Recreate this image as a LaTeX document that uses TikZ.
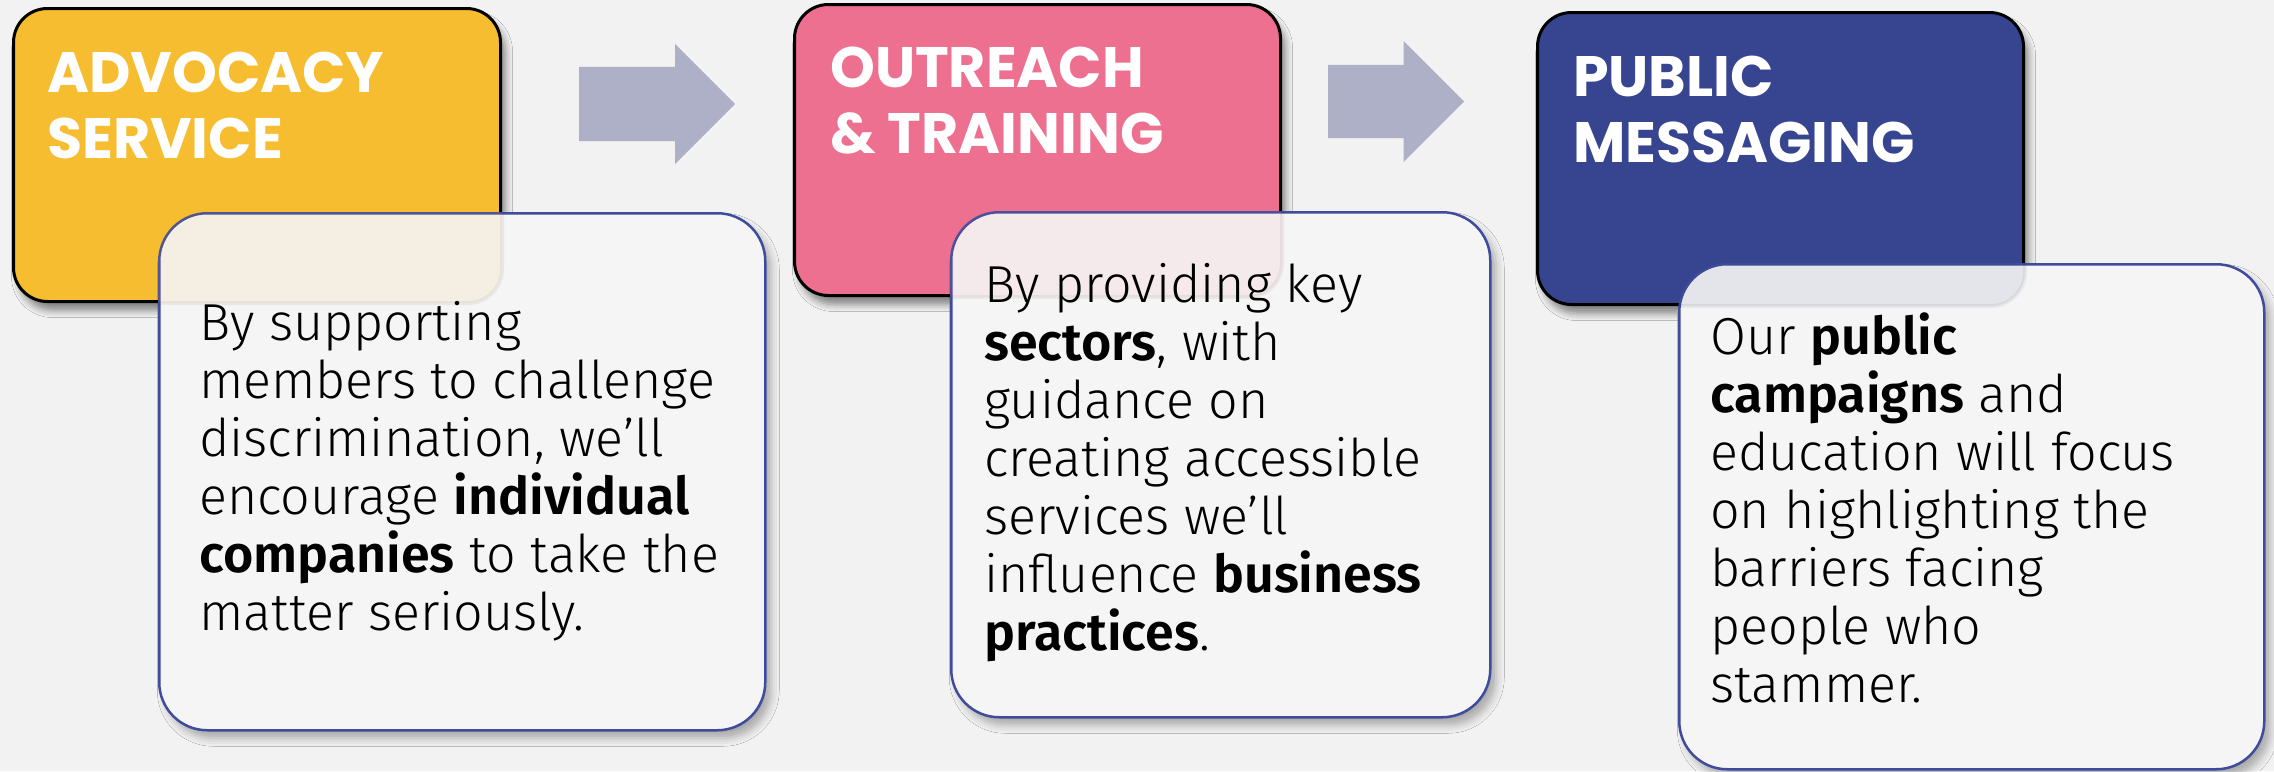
\documentclass[tikz,border=0pt]{standalone}
\usepackage{fontspec}
\setmainfont{Fira Sans}[UprightFont=* Light, BoldFont=* SemiBold]
\newfontfamily\headfont{Poppins}[UprightFont=* Bold]
\usetikzlibrary{shapes.arrows,shadows.blur}

\definecolor{pagebg}{HTML}{F2F2F2}
\definecolor{advyellow}{HTML}{F7BD30}
\definecolor{outpink}{HTML}{EE7090}
\definecolor{pubblue}{HTML}{37448F}
\definecolor{flowgray}{HTML}{ADB0C6}
\definecolor{cardline}{HTML}{3F4C9B}
\definecolor{cardfill}{HTML}{F5F5F5}

\tikzset{
  stage/.style={draw=black, line width=3pt, rounded corners=34pt,
    anchor=north west, inner sep=0pt,
    blur shadow={shadow xshift=5pt, shadow yshift=-9pt,
      shadow blur radius=7pt, shadow opacity=45}},
  card/.style={draw=cardline, line width=2.5pt, fill=cardfill,
    rounded corners=48pt, anchor=north west, inner sep=0pt,
    blur shadow={shadow xshift=6pt, shadow yshift=-8pt,
      shadow blur radius=8pt, shadow opacity=30}},
  tint/.style={fill opacity=0.09, draw=black, draw opacity=0.05,
    line width=4pt, rounded corners=34pt},
  heading/.style={anchor=base west, inner sep=0pt, text=white,
    font=\headfont\fontsize{57}{66}\selectfont},
  body/.style={anchor=base west, inner sep=0pt, text=black,
    font=\fontsize{52}{58}\selectfont},
  flow/.style={single arrow, fill=flowgray, draw=none, anchor=tail,
    inner xsep=0pt, inner ysep=37pt, single arrow head extend=23pt}
}

\begin{document}
\begin{tikzpicture}[x=1pt,y=-1pt]
  % page
  \fill[pagebg] (0,0) rectangle (2274,771);
  \useasboundingbox (0,0) rectangle (2274,771);

  % coloured stage boxes
  \node[stage, fill=advyellow, minimum width=487pt, minimum height=293pt] (advbox) at (12,7) {};
  \node[stage, fill=outpink, minimum width=486pt, minimum height=291pt] (outbox) at (793,3) {};
  \node[stage, fill=pubblue, minimum width=486pt, minimum height=292pt] (pubbox) at (1536,11) {};

  \node[heading] (advhead) at (47,92) {\parbox[t]{440pt}{ADVOCACY\\SERVICE}};
  \node[heading] (outhead) at (830,87) {\parbox[t]{440pt}{OUTREACH\\\&~TRAINING}};
  \node[heading] (pubhead) at (1573,96) {\parbox[t]{440pt}{PUBLIC\\MESSAGING}};

  % block arrows between the stages
  \node[flow, minimum height=156pt] (flowa) at (579,104) {};
  \node[flow, minimum height=136pt, inner ysep=36.5pt, single arrow head extend=24pt] (flowb) at (1328,101.5) {};

  % description cards, each tinted faintly where it covers its stage box
  \node[card, minimum width=606pt, minimum height=517pt] (advcard) at (158,212) {};
  \begin{scope}
    \clip[rounded corners=48pt] (advcard.north west) rectangle (advcard.south east);
    \path[tint, fill=advyellow] (advbox.north west) rectangle (advbox.south east);
  \end{scope}

  \node[card, minimum width=539pt, minimum height=505pt] (outcard) at (950,211) {};
  \begin{scope}
    \clip[rounded corners=48pt] (outcard.north west) rectangle (outcard.south east);
    \path[tint, fill=outpink] (outbox.north west) rectangle (outbox.south east);
  \end{scope}

  \node[card, minimum width=585pt, minimum height=505pt] (pubcard) at (1678,263) {};
  \begin{scope}
    \clip[rounded corners=48pt] (pubcard.north west) rectangle (pubcard.south east);
    \path[tint, fill=pubblue] (pubbox.north west) rectangle (pubbox.south east);
  \end{scope}

  \node[body] (advtext) at (199,340) {\parbox[t]{560pt}{\raggedright
    By supporting\\
    members to challenge\\
    discrimination, we’ll\\
    encourage \textbf{individual}\\
    \textbf{companies} to take the\\
    matter seriously.}};
  \node[body] (outtext) at (984,302) {\parbox[t]{500pt}{\raggedright
    By providing key\\
    \textbf{sectors}, with\\
    guidance on\\
    creating accessible\\
    services we’ll\\
    influence \textbf{business}\\
    \textbf{practices}.}};
  \node[body] (pubtext) at (1710,354) {\parbox[t]{540pt}{\raggedright
    Our \textbf{public}\\
    \textbf{campaigns} and\\
    education will focus\\
    on highlighting the\\
    barriers facing\\
    people who\\
    stammer.}};
\end{tikzpicture}
\end{document}
